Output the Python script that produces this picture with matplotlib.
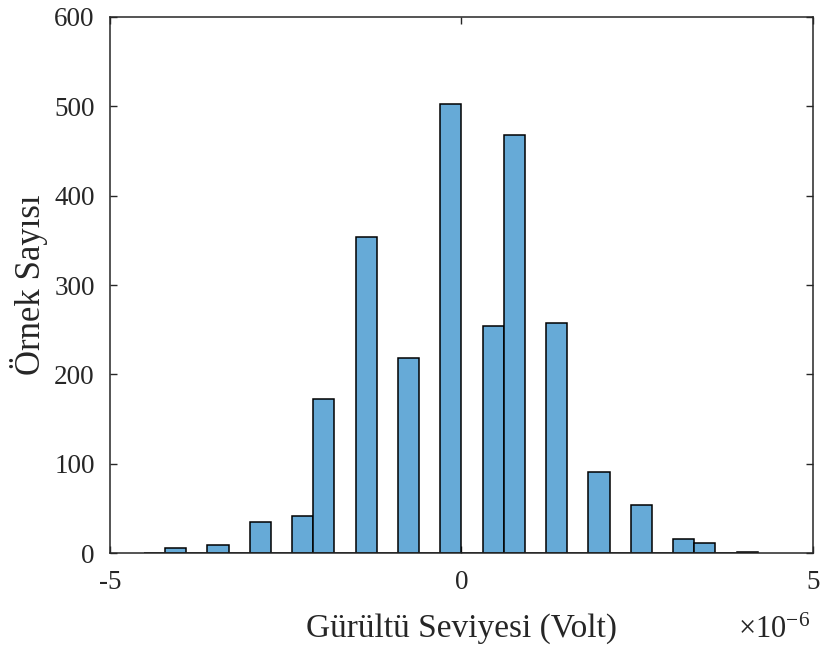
import matplotlib
matplotlib.use("Agg")
import matplotlib.pyplot as plt
from matplotlib.ticker import FixedLocator, FuncFormatter
import numpy as np

plt.rcParams['font.family'] = ['Liberation Serif', 'DejaVu Serif']
plt.rcParams['mathtext.fontset'] = 'custom'
plt.rcParams['mathtext.rm'] = 'Liberation Serif'
plt.rcParams['mathtext.it'] = 'Liberation Serif'

# Histogram bins (volts): first edge, bin width, and counts per bin
first_edge = -4.5186e-6
bin_width = 0.3013e-6
counts = [0, 6, 0, 9, 0, 35, 0, 42, 172, 0, 354, 0, 218, 0, 502, 0,
          254, 468, 0, 258, 0, 91, 0, 54, 0, 16, 11, 0, 2]

x_ticks = [-5e-6, 0, 5e-6]
y_ticks = [0, 100, 200, 300, 400, 500, 600]
x_label = "Gürültü Seviyesi (Volt)"
y_label = "Örnek Sayısı"

edges = first_edge + bin_width * np.arange(len(counts) + 1)

text_col = '#262626'
fig = plt.figure(figsize=(8.21, 6.46), dpi=100)
ax = fig.add_axes([0.134, 0.1435, 0.8559, 0.8306])

ax.bar(edges[:-1], counts, width=bin_width, align='edge',
       color='#66AAD7', edgecolor='black', linewidth=1.1, zorder=2)

ax.set_xlim(-5e-6, 5e-6)
ax.set_ylim(0, 600)
ax.xaxis.set_major_locator(FixedLocator(x_ticks))
ax.yaxis.set_major_locator(FixedLocator(y_ticks))
ax.xaxis.set_major_formatter(FuncFormatter(lambda v, p: f"{v * 1e6:g}"))

for s in ax.spines.values():
    s.set_color(text_col)
    s.set_linewidth(1.1)
    s.set_zorder(3)

ax.tick_params(direction='in', length=5, width=1.0, colors=text_col,
               labelsize=19.5, top=True, right=True, pad=11)
ax.tick_params(axis='x', pad=12)

ax.set_xlabel(x_label, fontsize=24, color=text_col, va='baseline')
ax.xaxis.set_label_coords(0.5, -0.155)
ax.set_ylabel(y_label, fontsize=25, color=text_col, va='center')
ax.yaxis.set_label_coords(-0.116, 0.5)

fig.text(0.987, 0.0125, r"$\times10^{-6}$", fontsize=22, color=text_col,
         ha='right', va='baseline')

fig.savefig("out.png", dpi=100)
